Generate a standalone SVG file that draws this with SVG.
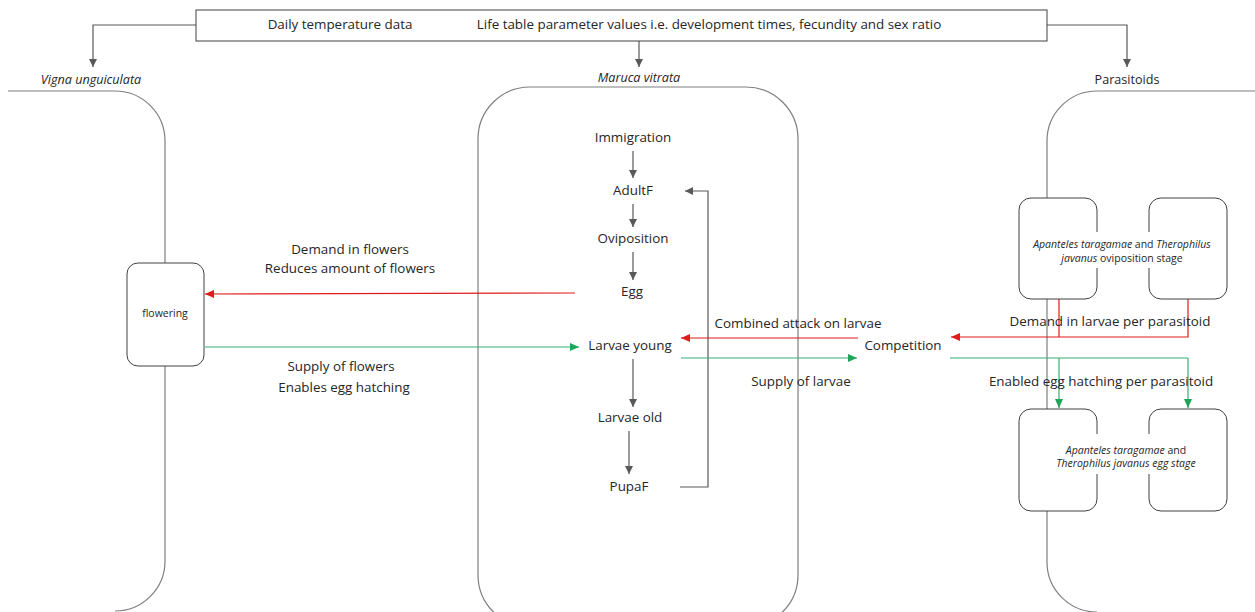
<svg xmlns="http://www.w3.org/2000/svg" width="1255" height="612" viewBox="0 0 1255 612">
<style>
text{font-family:"Open Sans","Liberation Sans",sans-serif;font-size:13.4px;fill:#262626;text-anchor:middle}
.it{font-style:italic}
.lab{font-size:12.6px}
.sm{font-size:10.5px}
.shape{fill:none;stroke:#7f7f7f;stroke-width:1.2}
.box{fill:#fff;stroke:#404040;stroke-width:1}
.g{fill:none;stroke:#595959;stroke-width:1.2}
.r{fill:none;stroke:#e01b1b;stroke-width:1.2}
.gr{fill:none;stroke:#3aae74;stroke-width:1.2}
</style>
<defs>
<marker id="ag" markerWidth="8" markerHeight="8" refX="8" refY="4" orient="auto" markerUnits="userSpaceOnUse"><path d="M0,0L8,4L0,8z" fill="#595959"/></marker>
<marker id="ar" markerWidth="9" markerHeight="8" refX="9" refY="4" orient="auto" markerUnits="userSpaceOnUse"><path d="M0,0L9,4L0,8z" fill="#e01b1b"/></marker>
<marker id="agr" markerWidth="9" markerHeight="8" refX="9" refY="4" orient="auto" markerUnits="userSpaceOnUse"><path d="M0,0L9,4L0,8z" fill="#1ea55a"/></marker>
</defs>
<rect width="1255" height="612" fill="#fff"/>

<g id="compartments">
<path id="vigna-shape" class="shape" d="M8,91H115A50,50 0 0 1 165,141V561A50,50 0 0 1 115,611"/>
<rect id="maruca-shape" class="shape" x="478" y="87" width="320" height="540" rx="52" ry="52"/>
<path id="parasitoid-shape" class="shape" d="M1255,91H1097A50,50 0 0 0 1047,141V562A50,50 0 0 0 1097,612"/>
</g>

<g id="connectors">
<path class="g" d="M196,25H93V67" marker-end="url(#ag)"/>
<path class="g" d="M639,41V67" marker-end="url(#ag)"/>
<path class="g" d="M1047,25H1127V67" marker-end="url(#ag)"/>
<path class="g" d="M633,151V178" marker-end="url(#ag)"/>
<path class="g" d="M633,204V227" marker-end="url(#ag)"/>
<path class="g" d="M633,252V280" marker-end="url(#ag)"/>
<path class="g" d="M633,359V407" marker-end="url(#ag)"/>
<path class="g" d="M629,431V474" marker-end="url(#ag)"/>
<path class="g" d="M680,487H708V191H685" marker-end="url(#ag)"/>
<path class="r" d="M575,293L205,294" marker-end="url(#ar)"/>
<path class="gr" d="M205,347H579" marker-end="url(#agr)"/>
<path class="r" d="M858,338H681" marker-end="url(#ar)"/>
<path class="gr" d="M681,358H857" marker-end="url(#agr)"/>
<path class="r" d="M1059,299V337H1188V299M1188,337H951" marker-end="url(#ar)"/>
<path class="gr" d="M950,358H1188"/>
<path class="gr" d="M1059,358V408" marker-end="url(#agr)"/>
<path class="gr" d="M1188,358V408" marker-end="url(#agr)"/>
</g>

<g id="node-inputs">
<rect class="box" x="196" y="10" width="851" height="31" stroke="#595959"/>
<text x="340" y="29">Daily temperature data</text>
<text x="709" y="29">Life table parameter values i.e. development times, fecundity and sex ratio</text>
</g>

<g id="node-vigna-label"><text class="it lab" x="91" y="84">Vigna unguiculata</text></g>
<g id="node-maruca-label"><text class="it lab" x="639" y="82">Maruca vitrata</text></g>
<g id="node-parasitoids-label"><text class="lab" x="1127" y="84">Parasitoids</text></g>

<g id="node-flowering">
<rect class="box" x="127" y="263" width="77" height="103" rx="11"/>
<text class="sm" x="165" y="317">flowering</text>
</g>

<g id="node-immigration"><text x="633" y="142">Immigration</text></g>
<g id="node-adultf"><text x="633" y="195">AdultF</text></g>
<g id="node-oviposition"><text x="633" y="243">Oviposition</text></g>
<g id="node-egg"><text x="632" y="296">Egg</text></g>
<g id="node-larvae-young"><text x="630" y="350">Larvae young</text></g>
<g id="node-larvae-old"><text x="630" y="422">Larvae old</text></g>
<g id="node-pupaf"><text x="629" y="491">PupaF</text></g>
<g id="node-competition"><text x="903" y="350">Competition</text></g>

<g id="node-parasitoid-oviposition">
<rect class="box" x="1019" y="198" width="78" height="101" rx="12"/>
<rect class="box" x="1149" y="198" width="78" height="101" rx="12"/>
<rect x="1030" y="232" width="184" height="36" fill="#fff"/>
<text class="sm" x="1122" y="248"><tspan class="it">Apanteles taragamae</tspan> and <tspan class="it">Therophilus</tspan></text>
<text class="sm" x="1122" y="262"><tspan class="it">javanus</tspan> oviposition stage</text>
</g>

<g id="node-parasitoid-egg">
<rect class="box" x="1019" y="409" width="78" height="102" rx="12"/>
<rect class="box" x="1149" y="409" width="78" height="102" rx="12"/>
<rect x="1050" y="434" width="154" height="40" fill="#fff"/>
<text class="sm" x="1126" y="454"><tspan class="it">Apanteles taragamae</tspan> and</text>
<text class="sm it" x="1126" y="467">Therophilus javanus egg stage</text>
</g>

<g id="labels">
<text x="350" y="254">Demand in flowers</text>
<text x="350" y="273">Reduces amount of flowers</text>
<text x="341" y="371">Supply of flowers</text>
<text x="344" y="392">Enables egg hatching</text>
<text x="798" y="328">Combined attack on larvae</text>
<text x="801" y="386">Supply of larvae</text>
<text x="1110" y="326">Demand in larvae per parasitoid</text>
<text x="1101" y="386">Enabled egg hatching per parasitoid</text>
</g>
</svg>
